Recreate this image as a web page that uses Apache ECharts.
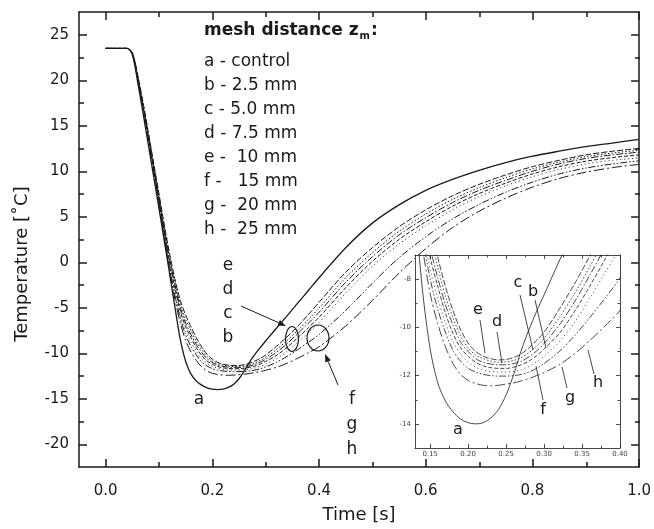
<!DOCTYPE html>
<html>
<head>
<meta charset="utf-8">
<script src="https://cdn.jsdelivr.net/npm/echarts@6/dist/echarts.min.js"></script>
<style>
html, body { margin: 0; padding: 0; background: #fff; }
#chart { width: 654px; height: 529px; }
</style>
</head>
<body>
<div id="chart"></div>
<script>
// time base (s) shared by all curves
var timeS = [0, 0.04, 0.05, 0.06, 0.07, 0.08, 0.09, 0.10, 0.11, 0.12,
  0.13, 0.14, 0.15, 0.16, 0.17, 0.18, 0.19, 0.20, 0.21, 0.22, 0.23, 0.24, 0.25, 0.26, 0.27, 0.28, 0.29, 0.30,
  0.32, 0.34, 0.36, 0.38, 0.40,
  0.45, 0.50, 0.55, 0.60, 0.65, 0.70, 0.75, 0.80, 0.85, 0.90, 0.95, 1.00];

var curveA = [23.5, 23.5, 22.8, 19.8, 16.4, 12.9, 9.4, 5.9, 2.3, -1.3,
  -5.0, -8.5, -10.9, -12.3, -13.05, -13.5, -13.8, -13.95, -14.0, -13.95, -13.75, -13.4, -12.8, -11.95, -10.95, -10.1, -9.35, -8.65,
  -7.25, -5.9, -4.5, -3.1, -1.7,
  1.6, 4.3, 6.3, 7.9, 9.1, 10.1, 10.95, 11.65, 12.2, 12.7, 13.1, 13.5];
var curveB = [23.5, 23.5, 23.0, 20.6, 17.6, 14.3, 10.9, 7.5, 4.1, 0.9,
  -1.9, -4.2, -5.8, -7.1, -8.3, -9.3, -10.1, -10.65, -11.0, -11.2, -11.3, -11.35, -11.33, -11.25, -11.1, -10.85, -10.55, -10.2,
  -9.25, -8.2, -7.05, -5.75, -4.4,
  -1.1, 1.6, 3.9, 5.75, 7.3, 8.55, 9.6, 10.5, 11.2, 11.8, 12.2, 12.5];
var curveC = [23.5, 23.5, 23.0, 20.5, 17.4, 14.1, 10.7, 7.3, 3.8, 0.6,
  -2.2, -4.6, -6.3, -7.5, -8.7, -9.6, -10.35, -10.85, -11.15, -11.3, -11.4, -11.45, -11.43, -11.37, -11.25, -11.05, -10.78, -10.45,
  -9.6, -8.6, -7.5, -6.3, -5.05,
  -1.7, 1.05, 3.4, 5.3, 6.9, 8.2, 9.3, 10.25, 11.0, 11.6, 12.0, 12.3];
var curveD = [23.5, 23.5, 23.0, 20.4, 17.3, 14.0, 10.5, 7.1, 3.6, 0.3,
  -2.5, -5.0, -6.7, -7.95, -9.05, -9.9, -10.6, -11.0, -11.3, -11.45, -11.52, -11.55, -11.55, -11.5, -11.4, -11.22, -10.98, -10.67,
  -9.9, -8.95, -7.85, -6.7, -5.5,
  -2.2, 0.6, 3.0, 4.9, 6.55, 7.9, 9.0, 10.0, 10.8, 11.4, 11.8, 12.1];
var curveE = [23.5, 23.5, 23.0, 20.3, 17.2, 13.8, 10.3, 6.9, 3.4, 0.0,
  -2.9, -5.4, -7.1, -8.3, -9.4, -10.25, -10.85, -11.2, -11.45, -11.6, -11.67, -11.7, -11.7, -11.65, -11.55, -11.4, -11.18, -10.9,
  -10.25, -9.35, -8.3, -7.2, -6.05,
  -2.8, 0.1, 2.5, 4.45, 6.15, 7.55, 8.7, 9.7, 10.5, 11.1, 11.5, 11.8];
var curveF = [23.5, 23.5, 22.95, 20.2, 17.1, 13.7, 10.2, 6.7, 3.1, -0.3,
  -3.3, -5.8, -7.6, -8.8, -9.8, -10.6, -11.1, -11.45, -11.65, -11.77, -11.83, -11.85, -11.85, -11.82, -11.75, -11.62, -11.43, -11.2,
  -10.6, -9.8, -8.8, -7.75, -6.65,
  -3.4, -0.45, 2.0, 4.0, 5.75, 7.2, 8.4, 9.4, 10.2, 10.8, 11.2, 11.45];
var curveG = [23.5, 23.5, 22.95, 20.1, 17.0, 13.6, 10.1, 6.6, 2.9, -0.6,
  -3.7, -6.2, -8.0, -9.25, -10.2, -10.95, -11.4, -11.7, -11.85, -11.95, -12.0, -12.02, -12.02, -12.0, -11.95, -11.85, -11.7, -11.5,
  -11.0, -10.35, -9.6, -8.8, -7.95,
  -5.3, -2.3, 0.5, 2.8, 4.75, 6.35, 7.7, 8.8, 9.7, 10.35, 10.8, 11.15];
var curveH = [23.5, 23.5, 22.9, 20.1, 16.9, 13.5, 10.0, 6.4, 2.7, -0.9,
  -4.1, -6.7, -8.6, -9.85, -10.8, -11.5, -11.95, -12.2, -12.33, -12.4, -12.42, -12.4, -12.35, -12.3, -12.22, -12.12, -12.0, -11.87,
  -11.55, -11.1, -10.55, -9.95, -9.3,
  -7.0, -4.2, -1.2, 1.5, 3.8, 5.6, 7.05, 8.25, 9.2, 9.9, 10.4, 10.75];

var curveNames = ['a', 'b', 'c', 'd', 'e', 'f', 'g', 'h'];
var curves = [curveA, curveB, curveC, curveD, curveE, curveF, curveG, curveH];

// tick values
var xTicks = [0, 0.2, 0.4, 0.6, 0.8, 1.0];
var xMinorTicks = [0.1, 0.3, 0.5, 0.7, 0.9];
var yTicks = [-20, -15, -10, -5, 0, 5, 10, 15, 20, 25];
var yMinorTicks = [-17.5, -12.5, -7.5, -2.5, 2.5, 7.5, 12.5, 17.5, 22.5];
var insetXTicks = [0.15, 0.20, 0.25, 0.30, 0.35, 0.40];
var insetXMinorTicks = [0.175, 0.225, 0.275, 0.325, 0.375];
var insetYTicks = [-14, -12, -10, -8];
var insetYMinorTicks = [-13, -11, -9];

var legendTitle = 'mesh distance z';
var legendRows = ['a - control', 'b - 2.5 mm', 'c - 5.0 mm', 'd - 7.5 mm',
  'e -  10 mm', 'f -   15 mm', 'g -  20 mm', 'h -  25 mm'];

var ink = '#1a1a1a';
var font = 'DejaVu Sans';
var dashes = ['solid', [6, 2], [1.5, 2], [7, 2, 1.5, 2], [4, 2], [1, 3], [7, 2, 1.5, 2, 1.5, 2], [10, 3, 2, 3]];

var chart = echarts.init(document.getElementById('chart'));

function pairs(vals) {
  return timeS.map(function (t, i) { return [t, vals[i]]; });
}

function axis(gridIndex, position, min, max, ticks, tickLen, showLine, lineW, z) {
  return {
    type: 'value', gridIndex: gridIndex, position: position, min: min, max: max, z: z || 0,
    splitLine: { show: false },
    axisLine: { show: showLine, onZero: false, lineStyle: { color: ink, width: lineW } },
    axisTick: { show: true, inside: true, length: tickLen, customValues: ticks, lineStyle: { color: ink, width: lineW } },
    axisLabel: { show: false }
  };
}

// main axes
var xMain = axis(0, 'bottom', -0.05, 1.0, xTicks, 8, true, 1.5);
xMain.axisLabel = { show: true, customValues: xTicks, margin: 17, fontSize: 15, fontFamily: font, color: ink,
  formatter: function (v) { return v.toFixed(1); } };
xMain.name = 'Time [s]';
xMain.nameLocation = 'middle';
xMain.nameGap = 39;
xMain.nameTextStyle = { fontSize: 18, fontFamily: font, color: ink };

var yMain = axis(0, 'left', -22.5, 27.5, yTicks, 8, true, 1.5);
yMain.axisLabel = { show: true, customValues: yTicks, margin: 10, fontSize: 15, fontFamily: font, color: ink };

// inset axes
var xIn = axis(2, 'bottom', 0.13, 0.40, insetXTicks, 4, true, 0.8, 7);
xIn.axisLabel = { show: true, customValues: insetXTicks, margin: 3, fontSize: 7, fontFamily: font, color: '#444',
  formatter: function (v) { return v.toFixed(2); } };
var yIn = axis(2, 'left', -15, -7, insetYTicks, 4, true, 0.8, 7);
yIn.axisLabel = { show: true, customValues: insetYTicks, margin: 4, fontSize: 7, fontFamily: font, color: '#444' };

var series = [];
curves.forEach(function (vals, i) {
  series.push({
    type: 'line', name: curveNames[i], xAxisIndex: 0, yAxisIndex: 0, data: pairs(vals),
    symbol: 'none', smooth: 0.3, z: 2, silent: true,
    lineStyle: { color: ink, width: i === 0 ? 1.3 : 1, type: dashes[i] }
  });
  series.push({
    type: 'line', name: curveNames[i] + '-inset', xAxisIndex: 4, yAxisIndex: 4, data: pairs(vals),
    symbol: 'none', smooth: 0.3, z: 6, silent: true, clip: true,
    lineStyle: { color: ink, width: 0.8, type: dashes[i] }
  });
});

function txt(x, y, s, size, extra) {
  var st = { text: s, x: x, y: y, fill: ink, font: (size || 17) + 'px "' + font + '"', textAlign: 'center', textVerticalAlign: 'middle' };
  if (extra) Object.assign(st, extra);
  return { type: 'text', z: 20, style: st };
}
function seg(x1, y1, x2, y2, w) {
  return { type: 'line', z: 20, shape: { x1: x1, y1: y1, x2: x2, y2: y2 }, style: { stroke: ink, lineWidth: w || 0.8 } };
}
function arrow(x1, y1, x2, y2) {
  var ang = Math.atan2(y2 - y1, x2 - x1), L = 8, W = 3;
  var bx = x2 - L * Math.cos(ang), by = y2 - L * Math.sin(ang);
  var px = -Math.sin(ang) * W, py = Math.cos(ang) * W;
  return [seg(x1, y1, bx, by, 1),
    { type: 'polygon', z: 20, shape: { points: [[x2, y2], [bx + px, by + py], [bx - px, by - py]] }, style: { fill: ink } }];
}
function oval(cx, cy, rx, ry) {
  return { type: 'ellipse', z: 20, shape: { cx: cx, cy: cy, rx: rx, ry: ry }, style: { fill: 'none', stroke: ink, lineWidth: 1.2 } };
}

var graphics = [];
graphics.push({
  type: 'text', z: 20, left: 204, top: 22,
  style: {
    text: '{t|' + legendTitle + '}{s|m}{t|:}', fill: ink,
    rich: {
      t: { fontSize: 17, fontWeight: 'bold', fontFamily: font, fill: ink },
      s: { fontSize: 10, fontWeight: 'bold', fontFamily: font, fill: ink, padding: [12, 1, 0, 1] }
    }
  }
});
legendRows.forEach(function (r, i) {
  graphics.push(txt(204, 62 + i * 24, r, 17, { textAlign: 'left' }));
});
// main plot annotations
['e', 'd', 'c', 'b'].forEach(function (s, i) { graphics.push(txt(228, 266 + i * 24, s)); });
['f', 'g', 'h'].forEach(function (s, i) { graphics.push(txt(352, 400 + i * 25, s)); });
graphics.push(txt(199, 400, 'a'));
graphics.push(oval(292, 339, 6.5, 12.5));
graphics.push(oval(318, 338, 11, 13));
graphics = graphics.concat(arrow(241, 306, 286, 326));
graphics = graphics.concat(arrow(338, 385, 325, 354));
// inset annotations
graphics.push(txt(478, 310, 'e', 16));
graphics.push(txt(497, 322, 'd', 16));
graphics.push(txt(518, 283, 'c', 16));
graphics.push(txt(533, 292, 'b', 16));
graphics.push(txt(543, 410, 'f', 16));
graphics.push(txt(570, 398, 'g', 16));
graphics.push(txt(598, 383, 'h', 16));
graphics.push(txt(458, 430, 'a', 16));
graphics.push(seg(480, 320, 485, 353));
graphics.push(seg(497, 332, 502, 363));
graphics.push(seg(520, 295, 533, 350));
graphics.push(seg(535, 300, 546, 348));
graphics.push(seg(543, 400, 536, 366));
graphics.push(seg(567, 388, 562, 367));
graphics.push(seg(594, 374, 588, 350));
// y axis title
graphics.push({
  type: 'text', z: 20, x: 22, y: 264, rotation: Math.PI / 2,
  style: { text: 'Temperature [˚C]', fill: ink, font: '18px "' + font + '"', textAlign: 'center', textVerticalAlign: 'middle' }
});

var option = {
  animation: false,
  backgroundColor: '#fff',
  grid: [
    { left: 79, right: 14, top: 12, bottom: 62 },
    { left: 79, right: 14, top: 12, bottom: 62 },
    { left: 415, right: 34, top: 255, bottom: 81, show: true, backgroundColor: '#fff', borderWidth: 0, z: 5 },
    { left: 415, right: 34, top: 255, bottom: 81, z: 5 }
  ],
  xAxis: [
    xMain,
    axis(0, 'top', -0.05, 1.0, xTicks, 8, true, 1.5),
    axis(1, 'bottom', -0.05, 1.0, xMinorTicks, 5, false, 1.5),
    axis(1, 'top', -0.05, 1.0, xMinorTicks, 5, false, 1.5),
    xIn,
    axis(2, 'top', 0.13, 0.40, insetXTicks, 4, true, 0.8, 7),
    axis(3, 'bottom', 0.13, 0.40, insetXMinorTicks, 2.5, false, 0.8, 7),
    axis(3, 'top', 0.13, 0.40, insetXMinorTicks, 2.5, false, 0.8, 7)
  ],
  yAxis: [
    yMain,
    axis(0, 'right', -22.5, 27.5, yTicks, 8, true, 1.5),
    axis(1, 'left', -22.5, 27.5, yMinorTicks, 5, false, 1.5),
    axis(1, 'right', -22.5, 27.5, yMinorTicks, 5, false, 1.5),
    yIn,
    axis(2, 'right', -15, -7, insetYTicks, 4, true, 0.8, 7),
    axis(3, 'left', -15, -7, insetYMinorTicks, 2.5, false, 0.8, 7),
    axis(3, 'right', -15, -7, insetYMinorTicks, 2.5, false, 0.8, 7)
  ],
  graphic: graphics,
  series: series
};
chart.setOption(option);
</script>
</body>
</html>
